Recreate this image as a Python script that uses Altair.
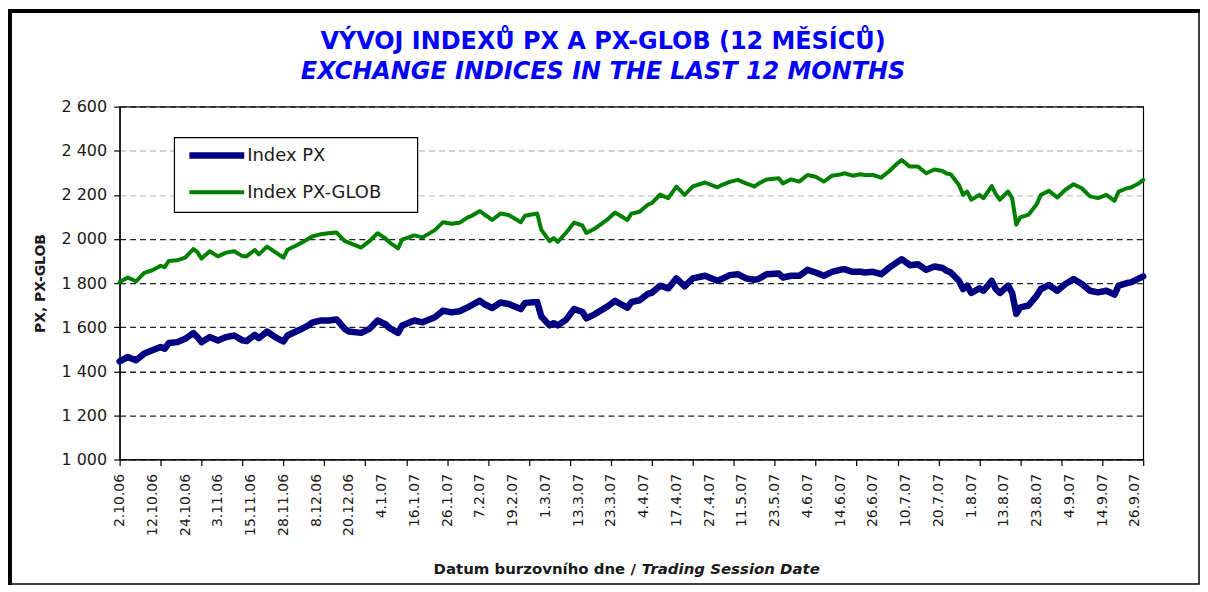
import altair as alt
import pandas as pd

# ---- data (trading-session index) ----
session = [0, 2, 4, 6, 8, 10, 11, 12, 14, 16, 18, 19, 20, 22, 24, 26, 28, 30, 31, 33,
           34, 36, 38, 40, 41, 44, 46, 47, 49,
           51, 53, 55, 56, 59, 61, 63, 65, 66, 68, 69, 72, 74, 77, 79, 81, 83, 85, 86, 88,
           89, 91, 93, 95, 98, 99,
           102, 103, 105, 106, 107, 109, 111, 113, 114, 116, 119, 121, 124, 125, 127, 129,
           130, 132, 134, 136, 138, 140, 143, 146, 147, 149,
           151, 153, 155, 156, 158, 161, 162, 164, 166, 168, 170, 172, 174, 176, 177, 179,
           181, 182, 184, 186, 188, 190, 191, 193, 195, 197, 199,
           201, 202, 203, 205, 206, 207, 208, 210, 211, 213, 214, 215, 217, 218, 219, 220,
           222, 224, 225, 227, 229, 231, 233, 235, 237, 239, 241, 243, 244, 246, 247, 249, 250]

px = [1445, 1465, 1450, 1480, 1495, 1510, 1502, 1528, 1532, 1547, 1573, 1555, 1532, 1555, 1540, 1555, 1562, 1540, 1537, 1565,
      1550, 1580, 1555, 1535, 1562, 1588, 1607, 1620, 1630,
      1630, 1635, 1592, 1580, 1574, 1592, 1630, 1612, 1595, 1574, 1607, 1630, 1622, 1645, 1675, 1667, 1672, 1690, 1700, 1720,
      1705, 1687, 1712, 1705, 1682, 1710,
      1714, 1648, 1608, 1618, 1608, 1633, 1682, 1670, 1640, 1658, 1692, 1719, 1688, 1714, 1722, 1751,
      1756, 1788, 1776, 1821, 1785, 1821, 1833, 1810, 1818, 1836,
      1840, 1821, 1815, 1818, 1840, 1843, 1825, 1833, 1833, 1860, 1848, 1833, 1851, 1860, 1863, 1851,
      1851, 1848, 1851, 1840, 1870, 1896, 1908, 1881, 1885, 1860, 1875,
      1868, 1856, 1848, 1810, 1773, 1788, 1755, 1776, 1765, 1810, 1773, 1755, 1788, 1755, 1660, 1690,
      1698, 1743, 1773, 1791, 1765, 1796, 1818, 1796, 1765, 1758, 1765, 1748, 1788, 1800, 1803, 1821, 1830]

px_glob = [1805, 1825, 1808, 1846, 1858, 1878, 1872, 1900, 1903, 1915, 1954, 1940, 1911, 1944, 1921, 1938, 1944, 1922, 1921, 1950,
           1930, 1965, 1940, 1915, 1951, 1978, 2000, 2011, 2021,
           2026, 2029, 1990, 1983, 1961, 1990, 2026, 2001, 1983, 1957, 1997, 2016, 2007, 2040, 2076, 2069, 2073, 2098, 2105, 2127,
           2112, 2086, 2115, 2109, 2076, 2105,
           2115, 2041, 1990, 2004, 1987, 2027, 2074, 2061, 2027, 2046, 2086, 2120, 2086, 2115, 2123, 2155,
           2163, 2201, 2185, 2237, 2200, 2238, 2256, 2234, 2244, 2259,
           2268, 2252, 2238, 2250, 2270, 2275, 2252, 2270, 2260, 2290, 2282, 2260, 2287, 2292, 2298, 2287,
           2293, 2290, 2290, 2278, 2308, 2343, 2358, 2328, 2328, 2298, 2315,
           2308, 2297, 2293, 2245, 2200, 2215, 2178, 2200, 2185, 2240, 2203, 2178, 2215, 2185, 2065, 2098,
           2110, 2158, 2200, 2218, 2188, 2223, 2248, 2230, 2193, 2185, 2200, 2173, 2215, 2230, 2233, 2253, 2268]

date_labels = ["2.10.06", "12.10.06", "24.10.06", "3.11.06", "15.11.06", "28.11.06", "8.12.06", "20.12.06",
               "4.1.07", "16.1.07", "26.1.07", "7.2.07", "19.2.07", "1.3.07", "13.3.07", "23.3.07",
               "4.4.07", "17.4.07", "27.4.07", "11.5.07", "23.5.07", "4.6.07", "14.6.07", "26.6.07",
               "10.7.07", "20.7.07", "1.8.07", "13.8.07", "23.8.07", "4.9.07", "14.9.07", "26.9.07"]
y_ticks = [1000, 1200, 1400, 1600, 1800, 2000, 2200, 2400, 2600]
series_names = ["Index PX", "Index PX-GLOB"]

title_cz = "VÝVOJ INDEXŮ PX A PX-GLOB (12 MĚSÍCŮ)"
title_en = "EXCHANGE INDICES IN THE LAST 12 MONTHS"
x_title_cz = "Datum burzovního dne /"
x_title_en = "Trading Session Date"
y_title = "PX, PX-GLOB"

# ---- styles ----
series_colors = ["#000080", "#008000"]
series_widths = [6.5, 4]
FONT = "DejaVu Sans"
TXT = "#1a1a1a"

n = len(session)
df = pd.DataFrame({
    "session": session + session,
    "value": px + px_glob,
    "series": [series_names[0]] * n + [series_names[1]] * n,
})

label_arr = "[" + ",".join("'" + s + "'" for s in date_labels) + "]"
label_step = 8
tick_step = 10
x_max = 250
tick_vals = sorted(set(range(0, x_max + 1, label_step)) | set(range(0, x_max + 1, tick_step)))

x_axis = alt.Axis(
    values=tick_vals,
    labelExpr=f"datum.value % {label_step} === 0 ? {label_arr}[datum.value / {label_step}] : ''",
    labelAngle=-90, labelAlign="right", labelBaseline="middle",
    labelFont=FONT, labelFontSize=14, labelColor=TXT, labelOverlap=False, labelPadding=8,
    labelFlush=False,
    tickOpacity={"condition": {"test": f"datum.value % {tick_step} === 0", "value": 1}, "value": 0},
    tickColor="#000", tickSize=6, tickWidth=1.2, domainColor="#000", domainWidth=1.2,
    grid=False, title=None,
)

y_axis = alt.Axis(
    values=y_ticks,
    labelExpr="replace(format(datum.value, ','), ',', ' ')",
    labelFont=FONT, labelFontSize=16, labelColor=TXT, labelPadding=7,
    tickColor="#000", tickSize=6, tickWidth=1.2, domainColor="#000", domainWidth=1.2,
    grid=True, gridDash=[6, 4], gridWidth=1.3,
    gridColor={"condition": {"test": "datum.value >= 2200 && datum.value < 2600", "value": "#c4c4c4"},
               "value": "#222222"},
    title=y_title, titleFont=FONT, titleFontSize=14, titleFontWeight="bold", titleColor=TXT,
    titlePadding=14,
)

color_scale = alt.Scale(domain=series_names, range=series_colors)

lines = alt.Chart(df).mark_line(strokeJoin="round", strokeCap="round").encode(
    x=alt.X("session:Q", scale=alt.Scale(domain=[0, x_max], nice=False, zero=False), axis=x_axis),
    y=alt.Y("value:Q", scale=alt.Scale(domain=[y_ticks[0], y_ticks[-1]], nice=False, zero=False), axis=y_axis),
    color=alt.Color("series:N", scale=color_scale, legend=None),
    strokeWidth=alt.StrokeWidth("series:N", sort=series_names,
                                scale=alt.Scale(domain=series_names, range=series_widths), legend=None),
)

one = pd.DataFrame({"a": [0]})

# outer frame
frame = alt.Chart(one).mark_rect(fill="#ffffff", fillOpacity=0, stroke="#000", strokeWidth=1.5).encode(
    x=alt.value(-111), x2=alt.value(1083), y=alt.value(-97), y2=alt.value(479))
frame_top = alt.Chart(one).mark_rule(color="#000", strokeWidth=4).encode(
    x=alt.value(-112), x2=alt.value(1084), y=alt.value(-96))
frame_left = alt.Chart(one).mark_rule(color="#000", strokeWidth=4).encode(
    x=alt.value(-110), y=alt.value(-98), y2=alt.value(480))

# legend (box, line samples, labels)
leg_box = alt.Chart(one).mark_rect(fill="#ffffff", stroke="#000", strokeWidth=1.2).encode(
    x=alt.value(55), x2=alt.value(299), y=alt.value(31), y2=alt.value(106))
legend_layers = []
for i, name in enumerate(series_names):
    row_y = 49 + i * 37
    ldf = pd.DataFrame({"series": [name]})
    legend_layers.append(alt.Chart(ldf).mark_rule(strokeWidth=series_widths[i], strokeCap="butt").encode(
        x=alt.value(70), x2=alt.value(125), y=alt.value(row_y),
        color=alt.Color("series:N", scale=color_scale, legend=None)))
    legend_layers.append(alt.Chart(ldf).mark_text(
        font=FONT, fontSize=18, color=TXT, align="left", baseline="middle").encode(
        text="series:N", x=alt.value(128), y=alt.value(row_y + 1)))

t1 = alt.Chart(pd.DataFrame({"t": [title_cz]})).mark_text(
    font=FONT, fontSize=24, fontWeight="bold", color="#0000FF", align="center", baseline="alphabetic"
).encode(text="t:N", x=alt.value(485), y=alt.value(-58))
t2 = alt.Chart(pd.DataFrame({"t": [title_en]})).mark_text(
    font=FONT, fontSize=24, fontWeight="bold", fontStyle="italic", color="#0000FF", align="center",
    baseline="alphabetic"
).encode(text="t:N", x=alt.value(485), y=alt.value(-28))

xt1 = alt.Chart(pd.DataFrame({"t": [x_title_cz]})).mark_text(
    font=FONT, fontSize=15, fontWeight="bold", color=TXT, align="right", baseline="alphabetic"
).encode(text="t:N", x=alt.value(518), y=alt.value(469))
xt2 = alt.Chart(pd.DataFrame({"t": [x_title_en]})).mark_text(
    font=FONT, fontSize=15, fontWeight="bold", fontStyle="italic", color=TXT, align="left",
    baseline="alphabetic"
).encode(text="t:N", x=alt.value(524), y=alt.value(469))

chart = alt.layer(frame, frame_top, frame_left, lines, leg_box, *legend_layers, t1, t2, xt1, xt2).properties(
    width=1027, height=354,
    autosize="none",
    padding={"left": 112, "top": 98, "right": 57, "bottom": 126},
    background="#ffffff",
).configure_view(stroke="#000", strokeWidth=1.2)

chart.save("out.html", embed_options={"renderer": "svg", "actions": False})
